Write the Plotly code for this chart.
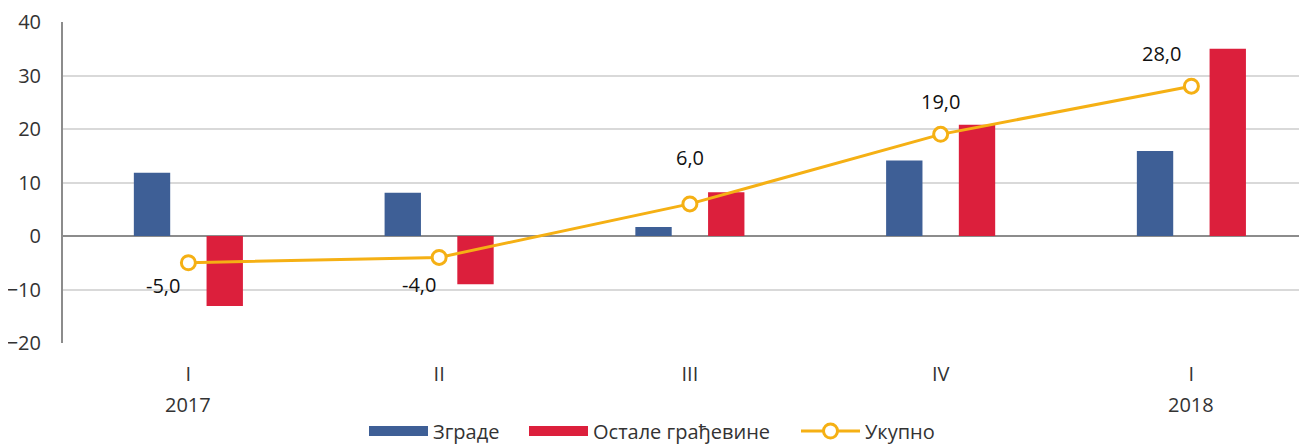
import plotly.graph_objects as go

quarters = ["I", "II", "III", "IV", "I"]
years = ["2017", "", "", "", "2018"]
zgrade = [11.8, 8.1, 1.7, 14.1, 15.9]
ostale = [-13.1, -9.0, 8.2, 20.8, 35.0]
ukupno = [-5.0, -4.0, 6.0, 19.0, 28.0]
y_ticks = [-20, -10, 0, 10, 20, 30, 40]

BLUE, RED, GOLD = "#3E5F96", "#DC1F3C", "#F5B014"
xs = list(range(len(quarters)))
FONT = "Open Sans"
W, H = 1299, 436  # page body adds an 8px margin

fig = go.Figure()
fig.add_trace(go.Bar(x=xs, y=zgrade, name="Зграде", marker_color=BLUE,
                     marker_line_width=0, showlegend=False))
fig.add_trace(go.Bar(x=xs, y=ostale, name="Остале грађевине", marker_color=RED,
                     marker_line_width=0, showlegend=False))
fig.add_trace(go.Scatter(x=xs, y=ukupno, name="Укупно", mode="lines+markers",
                         line=dict(color=GOLD, width=3),
                         marker=dict(symbol="circle", size=14, color="white",
                                     line=dict(color=GOLD, width=3)),
                         showlegend=False))
# legend entries (one legend each, to spread them like the original)
fig.add_trace(go.Scatter(x=[None], y=[None], name="Зграде", mode="lines",
                         line=dict(color=BLUE, width=14), legend="legend"))
fig.add_trace(go.Scatter(x=[None], y=[None], name="Остале грађевине", mode="lines",
                         line=dict(color=RED, width=14), legend="legend2"))
fig.add_trace(go.Scatter(x=[None], y=[None], name="Укупно", mode="lines+markers",
                         line=dict(color=GOLD, width=3),
                         marker=dict(symbol="circle", size=14, color="white",
                                     line=dict(color=GOLD, width=3)),
                         legend="legend3"))

offsets = [(-25, 23), (-20, 27), (0, -46), (0, -33), (-30, -33)]
for i, v in enumerate(ukupno):
    dx, dy = offsets[i]
    fig.add_annotation(x=xs[i], y=v, text=f"{v:.1f}".replace(".", ","),
                       showarrow=False, xshift=dx, yshift=-dy,
                       xanchor="center", yanchor="middle",
                       font=dict(size=20, color="#111111", family=FONT))

for i, yr in enumerate(years):
    if yr:
        fig.add_annotation(x=xs[i], y=0, xref="x", yref="paper", yanchor="middle",
                           text=yr, showarrow=False, yshift=-61,
                           font=dict(size=20, color="#333333", family=FONT))

def leg(x_text, iw=30):
    return dict(orientation="h", xref="container", x=(x_text - 40 - iw + 30) / W,
                xanchor="left", yref="container", y=1 - 423 / H, yanchor="middle",
                font=dict(size=20, color="#333333", family=FONT),
                itemwidth=iw, bgcolor="rgba(0,0,0,0)")

fig.update_layout(
    width=W, height=H,
    margin=dict(l=55, r=0, t=14, b=101, autoexpand=False),
    plot_bgcolor="white", paper_bgcolor="white",
    barmode="group", bargap=0.42, bargroupgap=0.5,
    font=dict(family=FONT, size=20, color="#333333"),
    showlegend=True,
    legend=leg(425, 59), legend2=leg(585, 59), legend3=leg(857, 59),
    xaxis=dict(tickmode="array", tickvals=xs, ticktext=quarters,
               range=[-0.5, 4.461], showgrid=False, showline=False,
               zeroline=False, ticks="", ticklabelstandoff=17, automargin=False),
    yaxis=dict(range=[-20, 40], tickvals=y_ticks, showgrid=True,
               gridcolor="#D9D9D9", gridwidth=1.5, zeroline=True,
               zerolinecolor="#8C8C8C", zerolinewidth=2,
               showline=True, linecolor="#8C8C8C", linewidth=2,
               ticks="", ticklabelstandoff=16, automargin=False),
)

fig.write_html("out.html")
